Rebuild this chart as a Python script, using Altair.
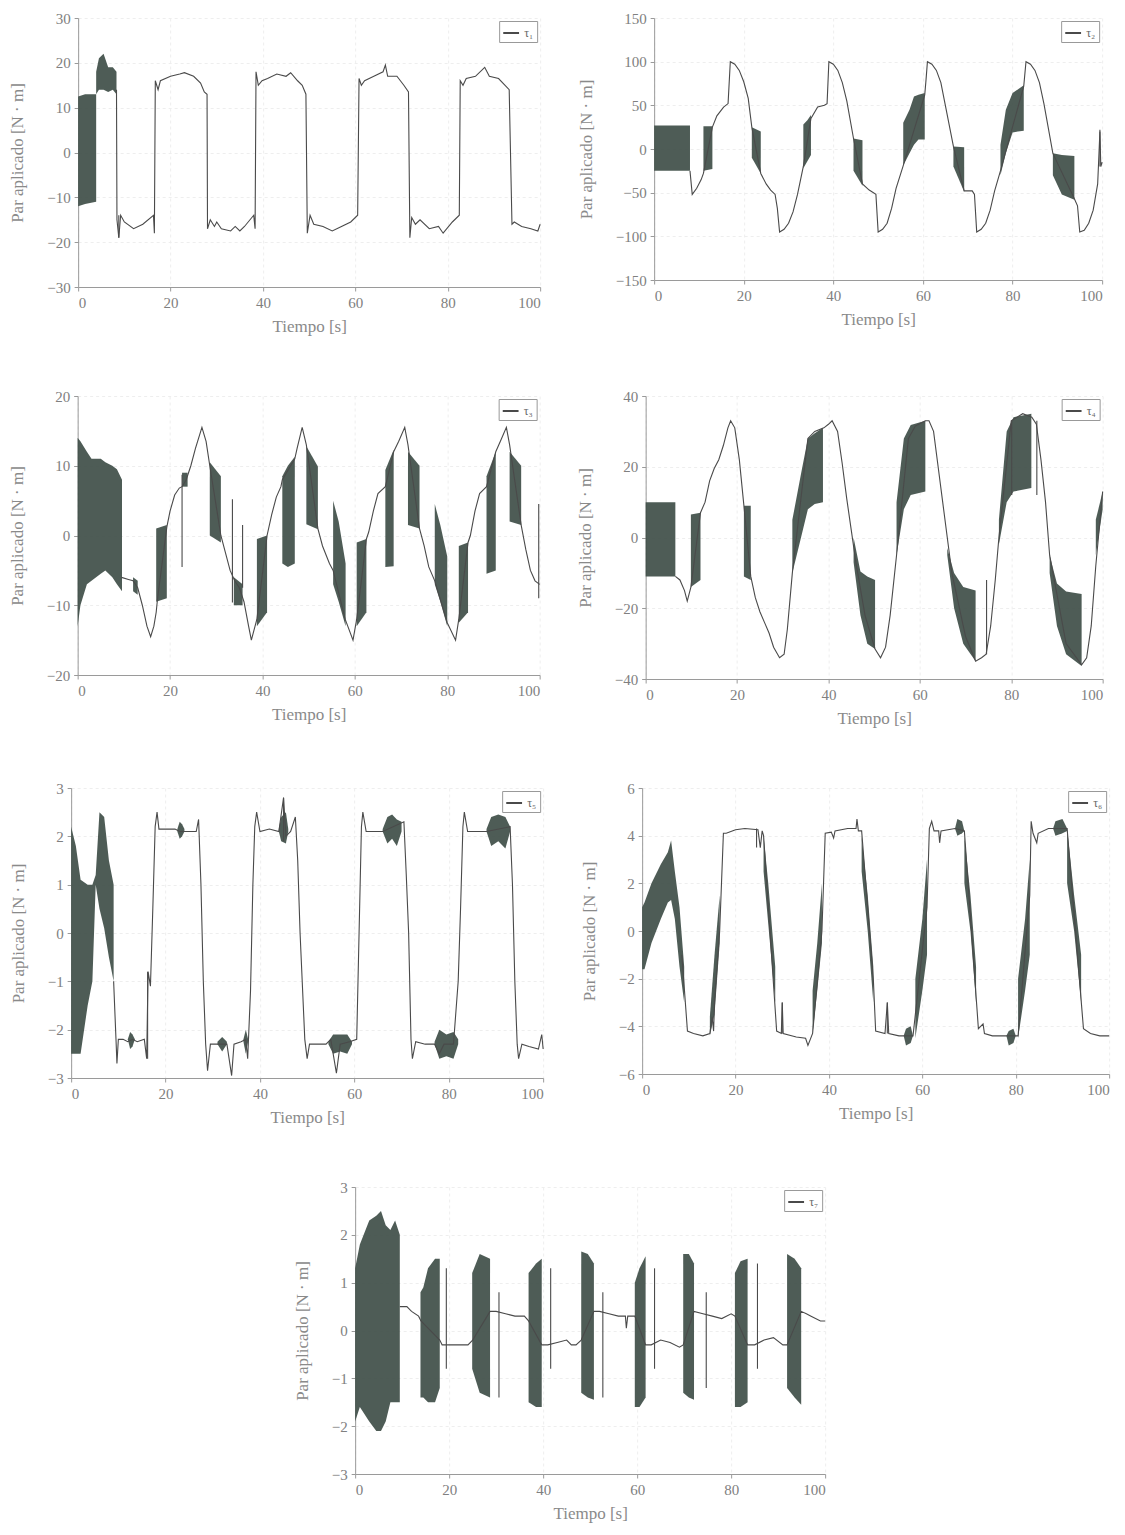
import altair as alt
import pandas as pd

# ---------------- data ----------------
X_TICKS = [0, 20, 40, 60, 80, 100]

TAU1_LINE = [(8.3,14),(8.4,-15),(8.8,-19),(9.2,-14),(10,-15.5),(12,-17),(14,-16),(16.3,-14),(16.5,-18),(16.7,16),(17.3,14),(17.8,16),(20,17),(22,17.5),(23,17.8),(25,17),(26.5,15.5),(27.3,13.5),(27.9,13),(28.0,-17),(28.6,-15),(29.5,-16.5),(30,-15.5),(31,-17),(33,-17.5),(34,-16.5),(35,-17.5),(36,-16.5),(38,-14),(38.3,-17),(38.5,18),(39,15),(39.8,16),(41,16.5),(43,17.5),(45,17),(46,17.8),(47.5,16),(48.5,15),(49.3,13),(49.6,-18),(50.2,-14),(51,-16),(53,-16.5),(55,-17.5),(57,-16.5),(59,-15.5),(60.5,-14),(60.8,16.5),(61.3,15),(62,16),(64,17),(66,18),(66.5,19.5),(67,17),(69,17),(70.5,15),(71.5,13.5),(71.8,-19),(72.2,-14.5),(73,-16),(74,-15),(76,-17),(78,-16.5),(79,-18),(81,-15.5),(82.5,-14),(82.7,16),(83.3,15),(84,16.5),(86,17),(88,19),(89,17),(91,16.5),(93.3,14),(93.9,-16),(94.4,-15.5),(96,-16.5),(98,-17),(99.5,-17.5),(100,-16)]
TAU1_BANDS = [
    [(0,-12,12.5),(1.5,-11.5,13),(3.9,-11,13)],
    [(3.9,13,18),(4.5,14,21),(5.5,14,22),(6.5,13.5,19),(7.5,14,19),(8.3,13,18)],
]
TAU1_SPIKES = [(8.8,-19,-14)]

TAU2_LINE = [(8,-25),(8.5,-52),(9.5,-45),(10.5,-35),(11,-28),(13,25),(14,38),(15.5,48),(16.5,52),(17,100),(18,97),(19,90),(20,77),(21,58),(21.8,25),(23.8,-28),(25,-40),(26,-47),(27,-52),(27.5,-68),(28,-95),(29,-92),(30,-85),(31,-72),(32,-52),(33.3,-20),(35,35),(36.5,48),(38,50),(38.6,52),(39,100),(40,97),(41,90),(42,76),(43,55),(44.5,12),(46.5,-40),(48,-47),(49.5,-52),(50,-95),(51,-92),(52,-85),(53,-68),(54,-45),(55.6,-19),(60.4,62),(60.7,80),(61,100),(62,97),(63,90),(64,76),(65,50),(66.8,3),(69.2,-48),(71,-48),(71.5,-52),(72,-95),(73,-92),(74,-85),(75,-70),(76,-48),(77.3,-25),(82.5,72),(83,100),(84,97),(85,90),(86,76),(87,52),(89,-5),(93.8,-57),(94.5,-65),(95,-95),(96,-93),(97,-85),(98,-70),(99,-40),(99.5,20),(99.7,-20),(100,-15)]
TAU2_BANDS = [
    [(0,-25,27),(8,-25,27)],
    [(11,-25,26),(13,-23,26)],
    [(21.8,-10,25),(23.8,-28,20)],
    [(33.3,-22,28),(34.2,-14,33),(35,-7,39)],
    [(44.5,-25,12),(46.5,-42,10)],
    [(55.6,-19,30),(57,-5,45),(58,5,60),(59,11,62),(60.4,11,64)],
    [(66.8,-20,3),(69.2,-49,2)],
    [(77.3,-30,5),(78.5,-5,45),(80,19,64),(82.5,21,73)],
    [(89,-30,-5),(91,-52,-7),(93.8,-58,-8)],
]
TAU2_SPIKES = [(99.5,-20,22)]

TAU3_LINE = [(9.5,-6),(11,-6.3),(12,-6.5),(13,-7.5),(14,-10),(15,-13),(15.8,-14.5),(16.5,-13),(17,-11),(17.3,-9),(19.3,1.2),(20,3.5),(21,5.8),(22,6.8),(22.6,7),(23.5,8),(24.5,10),(25.5,12.5),(26.9,15.5),(27.8,13.5),(28.6,10),(31,0),(32,-2.5),(33,-5),(34,-6.5),(35,-7.5),(36,-9.5),(37,-13),(37.6,-15),(38.4,-13),(38.8,-12),(41,0),(42,3),(43,5.5),(44,7),(44.3,8),(47,11),(47.5,12.5),(48.6,15.5),(49.5,13),(52,1),(53,-1.5),(54.5,-4),(55.3,-5),(57.9,-12),(59.6,-15),(60.4,-12),(62.5,-0.5),(63,0.5),(64,3.5),(65,6),(66.6,7),(68.4,12),(69.5,13.5),(70.8,15.5),(71.5,13),(74,1),(75,-1.5),(76,-4.5),(77.3,-6.5),(80,-12.5),(81.8,-15),(82.5,-12),(84.5,-1),(85,0),(86,3.5),(87,6),(88.5,7),(90.5,12),(91.5,13.5),(92.8,15.5),(93.5,13),(96,1.5),(97,-2),(98,-5),(99,-6.5),(100,-7)]
TAU3_BANDS = [
    [(0,-13,14),(0.6,-10,13.5),(2,-7,12),(3,-6.5,11),(5,-5.5,11),(6,-5,10.5),(7.5,-6,10),(8.5,-7,9.5),(9.6,-8,8)],
    [(12,-8,-6),(13,-8.5,-6.5)],
    [(17,-9.5,1),(19.3,-9,1.5)],
    [(22.6,7,9),(23.8,7,9)],
    [(28.6,0,10.5),(31,-1,8.5)],
    [(33.8,-10,-6),(35.7,-10,-7)],
    [(38.8,-13,-0.5),(41,-11,0)],
    [(44.3,-4,8.5),(45.5,-4.5,10),(47,-4,11.3)],
    [(49.5,1.6,12.8),(52,0.9,9.9)],
    [(55.3,-7,5),(56.5,-9.5,2),(58,-13,-4)],
    [(60.4,-13,-1),(62.5,-11,-0.5)],
    [(66.6,-4.5,9.4),(68.4,-4.4,12.3)],
    [(71.5,1.5,12),(74,1,10)],
    [(77.3,-7,4.5),(78.5,-9.5,1.5),(80,-13,-3)],
    [(82.5,-12.5,-1.5),(84.5,-11,-1)],
    [(88.5,-5.5,8.5),(90.5,-5,12)],
    [(93.5,2,12),(96,1.5,10)],
]
TAU3_SPIKES = [(22.6,-4.5,8.7),(33.5,-9.6,5.2),(35.7,-7.5,1.5),(99.8,-9,4.5)]

TAU4_LINE = [(6.5,-11),(7.5,-12),(8.5,-15),(9.1,-18),(9.9,-14),(12,7),(13,10),(14,16),(15,19.5),(16,22),(17,26),(18,31),(18.6,33),(19.5,31),(20.5,22),(21.5,9),(23,-11),(24,-17),(25,-21),(26,-24),(27,-27),(28,-31),(29.3,-34),(30.3,-33),(31,-26),(32.1,-10),(35.5,28),(37,30),(39,31),(40,32),(40.8,33),(42,30),(43,21),(44,11),(45,2),(46,-7),(48,-22),(50.2,-31.5),(51.4,-34),(52.5,-31),(53.5,-22),(54.9,-5),(57.5,28),(59,31.5),(61.2,33),(62,33),(63,30),(64,20),(65,10),(66,0),(67,-10),(70,-28),(72.2,-35),(73.5,-34),(74.5,-33),(75.5,-25),(76.5,-12),(77.3,0),(80,33),(82.5,35),(84.5,34),(85.5,32),(86.5,22),(87.5,10),(88.4,-5),(92,-30),(95.4,-36),(96.5,-34),(97.5,-25),(98.5,-8),(100,13)]
TAU4_BANDS = [
    [(0,-11,10),(6.5,-11,10)],
    [(9.9,-14,6.5),(12,-12,7)],
    [(21.5,-11,9),(23,-12,9)],
    [(32.1,-10,5),(34,0,18),(35.5,8,28),(37,9.5,29.5),(38.8,10,31)],
    [(45.5,-7,0),(47,-22,-9.6),(48.5,-30,-11),(50.2,-31.5,-12)],
    [(54.9,-5,10),(56.5,8,28),(58,12,31.8),(61.2,13,33)],
    [(66,-5,-3),(67.5,-20,-10),(69.5,-30,-14),(72.2,-35,-15)],
    [(77.3,-2,5),(79,10,30),(80.5,13,34),(84.4,14,35)],
    [(88.4,-10,-5),(90,-25,-13),(92,-33,-15.3),(95.4,-36.3,-16)],
    [(98.5,-5,5),(100,8,13)],
]
TAU4_SPIKES = [(74.6,-33,-12),(80.1,12,33),(85.6,12,33)]

TAU5_LINE = [(9,-1),(9.5,-2.2),(9.7,-2.7),(10,-2.2),(11,-2.2),(12,-2.25),(13,-2.2),(14,-2.25),(15.5,-2.2),(16,-2.6),(16.3,-0.8),(16.8,-1.1),(17.3,0.5),(17.8,2.2),(18.2,2.5),(18.6,2.15),(20,2.15),(22,2.15),(23,2.1),(25,2.1),(26.5,2.1),(27,2.35),(27.5,1.0),(28,-1),(28.5,-2.3),(28.9,-2.85),(29.5,-2.3),(31,-2.3),(33,-2.3),(34,-2.95),(34.5,-2.3),(36,-2.25),(37,-2.2),(37.4,-2.6),(38,-1.2),(38.5,1),(38.9,2.2),(39.3,2.5),(40,2.1),(42,2.15),(44,2.1),(45,2.8),(45.5,2.0),(46.5,2.1),(47.5,2.4),(48,1.5),(48.5,0),(49.5,-2.2),(50,-2.6),(50.5,-2.3),(52,-2.3),(54,-2.3),(55,-2.2),(56.2,-2.9),(57,-2.3),(59,-2.25),(60.5,-2.2),(61,0),(61.5,2.2),(61.8,2.5),(62.5,2.1),(64,2.1),(66,2.1),(70.5,2.3),(71,1.2),(71.5,0),(72,-2.2),(72.3,-2.6),(73,-2.25),(75,-2.3),(77,-2.3),(78,-2.5),(79,-2.3),(81,-2.3),(82,-1.0),(82.5,0.5),(83,2.2),(83.3,2.5),(84,2.1),(86,2.1),(88,2.1),(93,2.2),(93.5,1),(94,-1),(94.5,-2.3),(94.8,-2.6),(95.5,-2.3),(97,-2.35),(99,-2.4),(99.7,-2.1),(100,-2.4)]
TAU5_BANDS = [
    [(0,-2.5,2.2),(1,-2.5,1.8),(2,-2.5,1.1),(3.5,-1.5,1.0),(4.5,-1.0,1.0),(5.2,1.0,1.2),(6.0,0.5,2.5),(7.0,0.1,2.4),(8.0,-0.5,1.5),(9.0,-1.0,1.0)],
    [(12,-2.2,-2.2),(12.5,-2.4,-2.05),(13,-2.35,-2.1),(13.5,-2.2,-2.2)],
    [(22.5,2.1,2.15),(23,1.95,2.3),(23.5,2.0,2.25),(24,2.1,2.15)],
    [(31,-2.3,-2.25),(32,-2.45,-2.15),(33,-2.3,-2.25)],
    [(36.5,-2.25,-2.2),(37,-2.5,-2.0),(37.5,-2.25,-2.2)],
    [(44,2.1,2.15),(44.5,1.9,2.4),(45.5,1.85,2.5),(46,2.1,2.15)],
    [(54.5,-2.3,-2.25),(55.5,-2.5,-2.1),(57,-2.45,-2.1),(58.5,-2.5,-2.1),(59.5,-2.3,-2.25)],
    [(66,2.1,2.15),(67,1.85,2.4),(68,1.95,2.45),(69,1.8,2.35),(70,2.1,2.3)],
    [(77,-2.3,-2.25),(78,-2.6,-2.0),(79.5,-2.55,-2.1),(81,-2.6,-2.05),(82,-2.3,-2.2)],
    [(88,2.1,2.15),(89,1.8,2.4),(90.5,1.9,2.45),(92,1.75,2.4),(93,2.1,2.2)],
]
TAU5_SPIKES = [(16.2,-2.6,-0.8),(45,1.9,2.8)]

TAU6_LINE = [(8.5,-1),(9.7,-4.2),(11,-4.3),(13,-4.4),(14.5,-4.3),(15,-3.6),(15.3,-4.2),(15.5,-3),(16.6,0),(17.4,4.1),(18,4.1),(20,4.25),(22,4.3),(24.8,4.25),(25.3,3.5),(25.7,4.2),(26,4.0),(28.8,-4.2),(29.8,-4.3),(30,-3.0),(30.2,-4.3),(33,-4.45),(35,-4.5),(35.5,-4.8),(36.5,-4.3),(38.5,0),(39.2,4.1),(40.5,4.15),(41,3.9),(41.3,4.2),(44,4.3),(45.8,4.3),(46,4.7),(46.3,4.2),(47,4.2),(49.5,-2),(50,-4.2),(52,-4.3),(52.5,-3.0),(52.8,-4.3),(55,-4.4),(58,-4.4),(61,1),(61.5,4.3),(62,4.6),(62.5,4.2),(63.5,4.2),(63.7,3.7),(64,4.2),(67,4.3),(69,4.2),(72,-4.1),(73,-3.9),(73.3,-4.3),(75,-4.4),(78,-4.4),(80.5,-4.4),(83,1.5),(83.3,4.6),(83.7,4.1),(84.5,3.7),(84.8,4.1),(87,4.3),(91,4.3),(94.5,-4.1),(96,-4.3),(98,-4.4),(100,-4.4)]
TAU6_BANDS = [
    [(0,-1.6,1.0),(0.5,-1.6,1.2),(2,-0.5,2.0),(4,0.5,2.8),(5.5,1.2,3.3),(6.2,1.3,3.8),(7,0.5,2.5),(8,-1.5,1.0),(9,-3,-1.5)],
    [(14.5,-4.4,-3.6),(15.5,-3.5,-1),(16.6,-0.5,1.5)],
    [(26,2.5,4.0),(27,0.3,2.0),(28.5,-3.0,-1.5)],
    [(36.5,-4.3,-2.5),(37.5,-2.5,-0.5),(38.5,-0.5,2.0)],
    [(47,2.5,4.0),(48.3,0,1.5),(49.5,-3.0,-1.5)],
    [(56,-4.4,-4.4),(56.5,-4.8,-4.1),(57.5,-4.7,-4.0),(58,-4.4,-4.4)],
    [(58.5,-4.5,-2.0),(60,-2.5,0.5),(61,-1,3)],
    [(67,4.3,4.3),(67.5,4.0,4.7),(68.5,4.1,4.6),(69,4.2,4.2)],
    [(69,2,4),(70.3,0,1.5),(71.5,-3,-1.5)],
    [(78,-4.4,-4.4),(78.5,-4.8,-4.2),(79.5,-4.7,-4.1),(80,-4.4,-4.4)],
    [(80.5,-4.5,-2),(82,-2.5,0.5),(83,-1,3)],
    [(88,4.3,4.3),(88.5,4.0,4.6),(90,4.1,4.7),(91,4.2,4.3)],
    [(91,2,4.3),(92.5,0,1.5),(94,-3,-1)],
]
TAU6_SPIKES = [(24.5,3.5,4.3),(30,-4.3,-3.0),(52.5,-4.3,-3.0)]

TAU7_LINE = [(9.5,0.5),(11,0.5),(12,0.4),(13.5,0.3),(14,0.2),(18,-0.2),(18.5,-0.3),(20,-0.3),(22,-0.3),(24,-0.3),(25,-0.2),(28.7,0.4),(30,0.4),(32,0.35),(34,0.3),(36,0.3),(36.9,0.2),(39.7,-0.3),(41,-0.3),(43,-0.25),(45,-0.2),(46,-0.3),(47,-0.3),(48.1,-0.2),(50.8,0.4),(52,0.4),(54,0.35),(56,0.3),(57.5,0.3),(57.7,0.05),(58,0.3),(59.5,0.3),(61.8,-0.3),(63,-0.3),(65,-0.2),(67,-0.25),(69,-0.35),(69.8,-0.3),(72.1,0.4),(74,0.35),(76,0.3),(78,0.25),(80,0.35),(80.8,0.3),(83.5,-0.3),(85,-0.3),(87,-0.2),(89,-0.15),(91,-0.3),(91.9,-0.3),(94.9,0.4),(96,0.35),(97,0.3),(99,0.2),(100,0.2)]
TAU7_BANDS = [
    [(0,-1.9,1.3),(1,-1.6,1.8),(3,-1.9,2.3),(4.5,-2.1,2.4),(5.5,-2.1,2.5),(6.5,-1.9,2.2),(7.5,-1.5,2.1),(8.5,-1.5,2.3),(9.5,-1.5,2.0)],
    [(13.9,-1.4,0.8),(14.5,-1.4,0.9),(15.5,-1.5,1.3),(17,-1.5,1.5),(18,-1.2,1.5)],
    [(24.9,-0.8,1.2),(26.5,-1.3,1.6),(28.7,-1.4,1.5)],
    [(36.9,-1.5,1.2),(38.5,-1.6,1.4),(39.7,-1.6,1.5)],
    [(48.1,-1.3,1.65),(49.5,-1.4,1.6),(50.8,-1.45,1.4)],
    [(59.5,-1.6,1.0),(60.5,-1.6,1.3),(61.8,-1.4,1.55)],
    [(69.8,-1.3,1.6),(71,-1.4,1.6),(72.1,-1.45,1.4)],
    [(80.8,-1.6,1.2),(82,-1.6,1.45),(83.5,-1.5,1.5)],
    [(91.9,-1.2,1.6),(93.5,-1.4,1.5),(94.9,-1.55,1.3)],
]
TAU7_SPIKES = [(19.4,-0.8,1.3),(30.6,-1.4,0.8),(41.6,-0.8,1.3),(52.7,-1.4,0.8),(63.7,-0.8,1.3),(74.7,-1.2,0.8),(85.6,-0.8,1.4)]

LABELS = ["τ₁", "τ₂", "τ₃", "τ₄", "τ₅", "τ₆", "τ₇"]

# ---------------- styling ----------------
FONT = "Liberation Serif"
BAND_COLOR = "#3b4a44"
LINE_COLOR = "#4a4a4a"
Y_TITLE = "Par aplicado [N · m]"
X_TITLE = "Tiempo [s]"


def panel(line, bands, spikes, label, ydom, yvals, w, h):
    line_df = pd.DataFrame(line, columns=["t", "y"])
    line_df["i"] = range(len(line_df))
    line_df["serie"] = label
    rows = []
    for k, seg in enumerate(bands):
        for (t, lo, hi) in seg:
            rows.append({"seg": k, "t": t, "lo": lo, "hi": hi})
    band_df = pd.DataFrame(rows)
    spike_df = pd.DataFrame(spikes, columns=["t", "lo", "hi"])

    xs = alt.Scale(domain=[0, 100], nice=False)
    ys = alt.Scale(domain=ydom, nice=False, zero=False)
    xa = alt.Axis(values=X_TICKS, title=X_TITLE)
    ya = alt.Axis(values=yvals, title=Y_TITLE)

    band = alt.Chart(band_df).mark_area(color=BAND_COLOR, opacity=0.9).encode(
        x=alt.X("t:Q", scale=xs, axis=xa),
        y=alt.Y("lo:Q", scale=ys, axis=ya),
        y2="hi:Q",
        detail="seg:N",
    )
    ln = alt.Chart(line_df).mark_line(strokeWidth=1.1).encode(
        x=alt.X("t:Q", scale=xs, axis=xa),
        y=alt.Y("y:Q", scale=ys, axis=ya),
        order="i:Q",
        color=alt.Color("serie:N", scale=alt.Scale(domain=[label], range=[LINE_COLOR]),
                        legend=alt.Legend(title=None, orient="top-right")),
    )
    sp = alt.Chart(spike_df).mark_rule(color=LINE_COLOR, strokeWidth=1.1).encode(
        x=alt.X("t:Q", scale=xs, axis=xa),
        y=alt.Y("lo:Q", scale=ys, axis=ya),
        y2="hi:Q",
    )
    return alt.layer(band, ln, sp).properties(width=w, height=h)


p1 = panel(TAU1_LINE, TAU1_BANDS, TAU1_SPIKES, LABELS[0], [-30, 30], [-30, -20, -10, 0, 10, 20, 30], 462, 269)
p2 = panel(TAU2_LINE, TAU2_BANDS, TAU2_SPIKES, LABELS[1], [-150, 150], [-150, -100, -50, 0, 50, 100, 150], 448, 262)
p3 = panel(TAU3_LINE, TAU3_BANDS, TAU3_SPIKES, LABELS[2], [-20, 20], [-20, -10, 0, 10, 20], 462, 279)
p4 = panel(TAU4_LINE, TAU4_BANDS, TAU4_SPIKES, LABELS[3], [-40, 40], [-40, -20, 0, 20, 40], 457, 283)
p5 = panel(TAU5_LINE, TAU5_BANDS, TAU5_SPIKES, LABELS[4], [-3, 3], [-3, -2, -1, 0, 1, 2, 3], 472, 290)
p6 = panel(TAU6_LINE, TAU6_BANDS, TAU6_SPIKES, LABELS[5], [-6, 6], [-6, -4, -2, 0, 2, 4, 6], 467, 286)
p7 = panel(TAU7_LINE, TAU7_BANDS, TAU7_SPIKES, LABELS[6], [-3, 3], [-3, -2, -1, 0, 1, 2, 3], 470, 287)

def row(a, b):
    return alt.hconcat(a, b, spacing=33).resolve_scale(color="independent").resolve_legend(color="independent")

chart = alt.vconcat(
    row(p1, p2), row(p3, p4), row(p5, p6), p7,
    spacing=53, center=True,
).resolve_scale(color="independent").resolve_legend(color="independent").properties(
    padding={"left": 7, "top": 10, "right": 5, "bottom": 5}
).configure_view(
    stroke="transparent"
).configure_axis(
    labelFont=FONT, labelFontSize=15, labelColor="#808080",
    titleFont=FONT, titleFontSize=17, titleColor="#8a8a8a", titleFontWeight="normal",
    domainColor="#9a9a9a", tickColor="#9a9a9a", tickSize=4,
    gridColor="#eeeeee", gridDash=[3, 3], labelPadding=4,
).configure_axisY(
    titlePadding=20,
).configure_axisX(
    titlePadding=8,
).configure_legend(
    labelFont=FONT, labelFontSize=12, labelColor="#666",
    strokeColor="#999", fillColor="white", padding=3, offset=3,
    symbolType="stroke", symbolStrokeWidth=2, symbolSize=250, rowPadding=0,
)

chart.save("out.html", embed_options={"renderer": "svg", "actions": False})
